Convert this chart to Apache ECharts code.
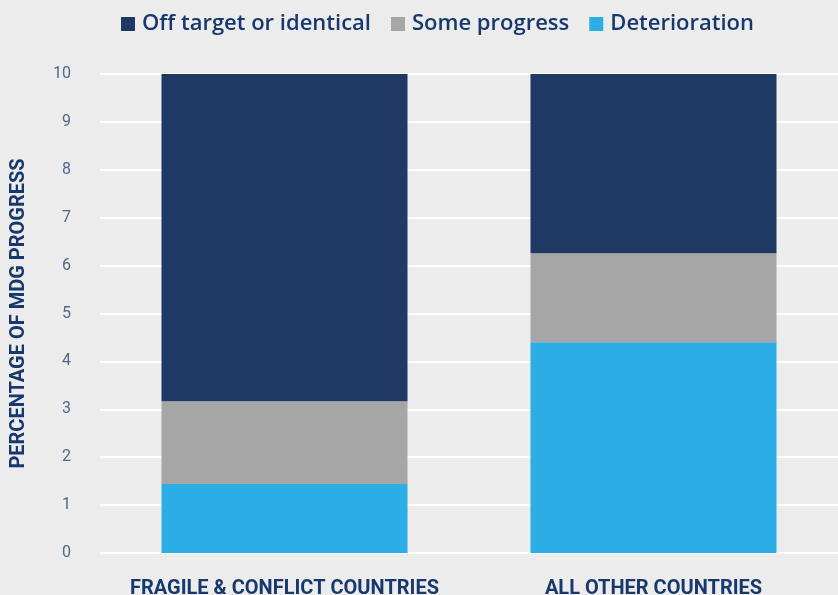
<!DOCTYPE html>
<html>
<head>
<meta charset="utf-8">
<script src="https://cdn.jsdelivr.net/npm/echarts@6/dist/echarts.min.js"></script>
<style>
  html, body { margin: 0; padding: 0; background: #ebeceb; }
  #chart { width: 838px; height: 595px; }
</style>
</head>
<body>
<div id="chart"></div>
<script>
// categories and values
const categories = ['FRAGILE & CONFLICT COUNTRIES', 'ALL OTHER COUNTRIES']
const deterioration = [1.44, 4.40]
const someProgress = [1.73, 1.86]
const offTarget = [6.83, 3.74]
const yTicks = { min: 0, max: 10, interval: 1 }

const navy = '#1f3864'
const textNavy = '#17386e'

const chart = echarts.init(document.getElementById('chart'))

const barStyle = (name, data, color) => ({
  name: name,
  type: 'bar',
  stack: 'total',
  barWidth: 246,
  itemStyle: { color: color },
  data: data
})

chart.setOption({
  backgroundColor: '#ebeceb',
  textStyle: { fontFamily: 'Roboto' },
  legend: {
    top: 8,
    left: 116,
    itemWidth: 14,
    itemHeight: 14,
    itemGap: 20,
    icon: 'rect',
    data: ['Off target or identical', 'Some progress', 'Deterioration'],
    textStyle: { fontSize: 22, fontWeight: 600, color: textNavy, fontFamily: 'Open Sans', padding: [0, 0, 0, 2] }
  },
  grid: { left: 100, right: 0, top: 74, bottom: 42, outerBoundsMode: 'none' },
  xAxis: {
    type: 'category',
    data: categories,
    axisLine: { show: false },
    axisTick: { show: false },
    axisLabel: {
      interval: 0,
      margin: 26,
      fontSize: 20,
      fontWeight: 'bold',
      color: textNavy,
      fontFamily: 'Roboto'
    }
  },
  yAxis: {
    type: 'value',
    min: yTicks.min,
    max: yTicks.max,
    interval: yTicks.interval,
    name: 'PERCENTAGE OF MDG PROGRESS',
    nameLocation: 'middle',
    nameGap: 71,
    nameRotate: 90,
    nameTextStyle: { fontSize: 20, fontWeight: 'bold', color: textNavy, fontFamily: 'Roboto' },
    axisLabel: { margin: 29, fontSize: 16, color: '#4f6890', fontFamily: 'Roboto' },
    splitLine: { lineStyle: { color: '#ffffff', width: 2 } }
  },
  series: [
    barStyle('Deterioration', deterioration, '#2cade4'),
    barStyle('Some progress', someProgress, '#a6a6a6'),
    barStyle('Off target or identical', offTarget, navy)
  ]
})
</script>
</body>
</html>
